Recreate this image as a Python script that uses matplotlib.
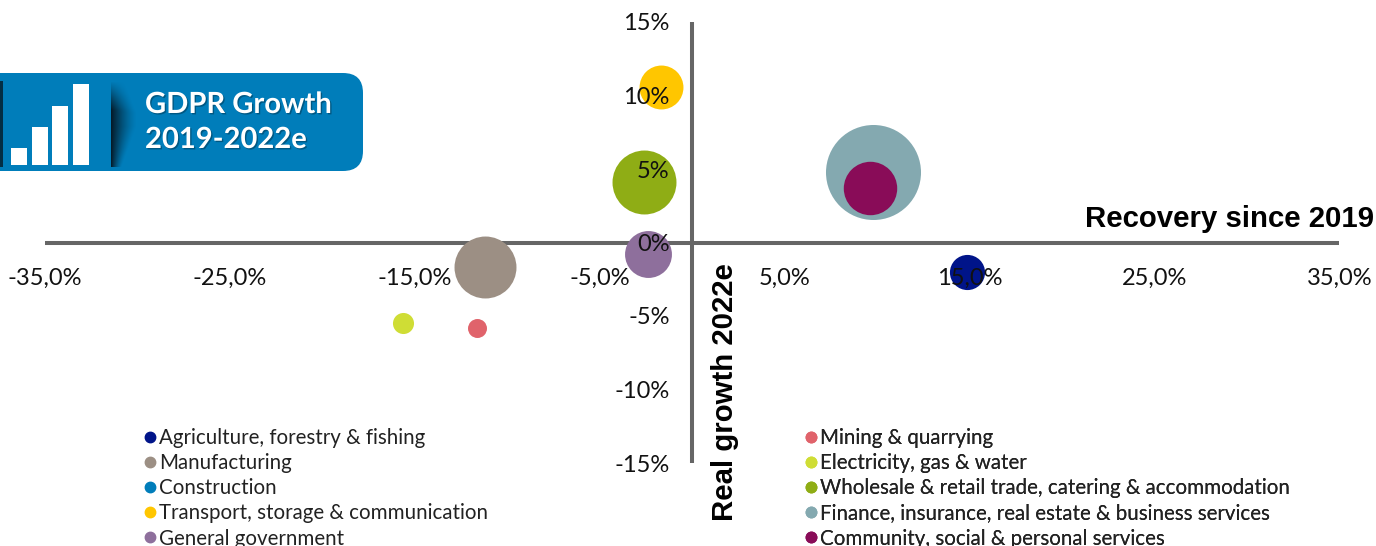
import numpy as np
import matplotlib
matplotlib.use("Agg")
import matplotlib.pyplot as plt
import matplotlib.patheffects as pe
from matplotlib.lines import Line2D
from matplotlib.patches import FancyBboxPatch, Rectangle
from matplotlib.transforms import Affine2D

sectors = [
    "Agriculture, forestry & fishing", "Mining & quarrying",
    "Manufacturing", "Electricity, gas & water",
    "Construction", "Wholesale & retail trade, catering & accommodation",
    "Transport, storage & communication", "Finance, insurance, real estate & business services",
    "General government", "Community, social & personal services",
]
recovery = [14.85, -11.6, -11.2, -15.6, None, -2.6, -1.7, 9.8, -2.4, 9.6]
growth = [-2.0, -5.85, -1.7, -5.5, None, 4.1, 10.6, 4.8, -0.75, 3.7]
bubble_size = [640, 187, 1990, 230, None, 2120, 1000, 4680, 1140, 1480]
colors = ["#001489", "#E0636B", "#9C8F84", "#CFDD35", "#007DBA", "#8FAD15",
          "#FFC600", "#84A9B0", "#8E6F9C", "#890C58"]
# back to front, the small bubbles have to stay on top of the big ones
draw_order = [7, 2, 5, 6, 8, 0, 1, 3, 9]

x_ticks = [-35, -25, -15, -5, 5, 15, 25, 35]
x_tick_labels = ["-35,0%", "-25,0%", "-15,0%", "-5,0%", "5,0%", "15,0%", "25,0%", "35,0%"]
y_ticks = [-15, -10, -5, 0, 5, 10, 15]
y_tick_labels = ["-15%", "-10%", "-5%", "0%", "5%", "10%", "15%"]

FONT = "Lato"
AXIS_GREY = "#666666"
W, H = 1376, 546

fig = plt.figure(figsize=(W / 100, H / 100), dpi=100)
ax = fig.add_axes([0, 0, 1, 1])
xlim = ((0 - 692) / 18.5, (W - 692) / 18.5)
ylim = ((242.5 - H) / 14.7, 242.5 / 14.7)

for side in ["top", "right"]:
    ax.spines[side].set_visible(False)
ax.spines["left"].set_position(("data", 0))
ax.spines["bottom"].set_position(("data", 0))
ax.spines["left"].set_bounds(-15, 15)
ax.spines["bottom"].set_bounds(-35, 35)
for side in ["left", "bottom"]:
    ax.spines[side].set_linewidth(2.9)
    ax.spines[side].set_color(AXIS_GREY)
    ax.spines[side].set_capstyle("butt")
    ax.spines[side].set_zorder(1)

for i in draw_order:
    ax.scatter(recovery[i], growth[i], s=bubble_size[i], color=colors[i],
               linewidths=0, zorder=2)

ax.set_xticks(x_ticks, x_tick_labels, fontsize=17, family=FONT, color="#111111")
ax.set_yticks(y_ticks, y_tick_labels, fontsize=17, family=FONT, color="#111111")
ax.tick_params(axis="x", length=0, pad=18)
ax.tick_params(axis="y", length=0, pad=16)
# percent labels sit on top of the bubbles
ax.xaxis.set_zorder(5)
ax.yaxis.set_zorder(5)

ax.text(1374 / W, (H - 219) / H, "Recovery since 2019", transform=ax.transAxes,
        ha="right", va="center", fontsize=21.2, fontweight="bold",
        family="Liberation Sans", color="black")
ax.text(725 / W, (H - 392) / H, "Real growth 2022e", transform=ax.transAxes,
        rotation=90, ha="center", va="center", fontsize=21.2, fontweight="bold",
        family="Liberation Sans", color="black")

# two column legend, left column holds the even rows
for col, anchor_x in enumerate([134.6 / W, 795.6 / W]):
    handles = [Line2D([], [], marker="o", linestyle="none", markersize=7.5,
                      color=colors[i], label=sectors[i])
               for i in range(col, len(sectors), 2)]
    leg = ax.legend(handles=handles, loc="upper left", frameon=False,
                    bbox_to_anchor=(anchor_x, (H - 428) / H),
                    prop={"family": FONT, "size": 14.8}, labelspacing=0.25,
                    handlelength=1.5, handletextpad=-0.31, borderpad=0, borderaxespad=0,
                    labelcolor="#222222")
    ax.add_artist(leg)

# banner, drawn in pixel coordinates from the top left corner
px = Affine2D().scale(1, -1).translate(0, H)
banner = FancyBboxPatch((-40, 73), 403, 98, boxstyle="round,pad=0,rounding_size=20",
                        facecolor="#007DBA", edgecolor="none", transform=px, zorder=6)
ax.add_patch(banner)

# dark shade behind the icon, fades to the right and towards the top
gx, gy = np.meshgrid(np.linspace(0, 1, 80), np.linspace(0, 1, 80))
reach = 0.35 + 0.65 * np.clip(1.15 - np.abs(gy - 0.45) * 1.9, 0, 1)
shade = np.zeros((80, 80, 4))
shade[..., :3] = (0.02, 0.1, 0.15)
shade[..., 3] = np.clip(1 - gx / reach, 0, 1) ** 1.4 * np.clip(gy * 3.0, 0, 1)
ax.imshow(shade, aspect="auto", zorder=7, extent=(111, 137, 167, 81),
          origin="upper", transform=px)
ax.add_patch(Rectangle((0, 81), 3, 86, facecolor="#04202F", edgecolor="none",
                       transform=px, zorder=7, alpha=0.85))

for x0, top in [(11, 148), (32, 127), (52, 106), (73, 84)]:
    ax.add_patch(Rectangle((x0, top), 16, 165 - top, facecolor="white", edgecolor="none",
                           transform=px, zorder=8))

for y_px, line in [(105, "GDPR Growth"), (140, "2019-2022e")]:
    ax.text(145, y_px, line, transform=px, ha="left", va="center", color="white",
            fontsize=21, fontweight="bold", family=FONT, zorder=9,
            path_effects=[pe.withSimplePatchShadow(offset=(1, -1), shadow_rgbFace="#00405f", alpha=0.6)])

ax.set_xlim(xlim)
ax.set_ylim(ylim)

fig.savefig("out.png", dpi=100)
